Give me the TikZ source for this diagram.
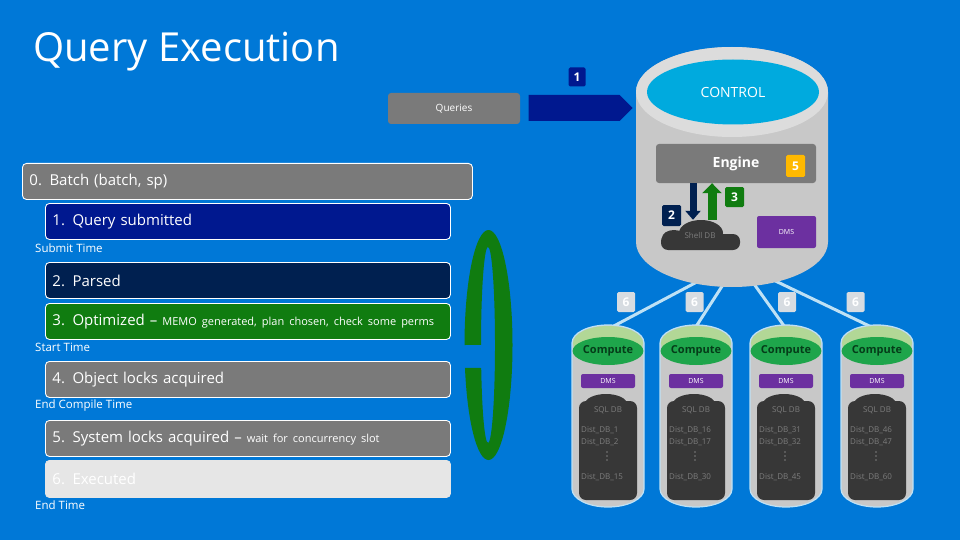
\documentclass[tikz,border=0pt]{standalone}
\usepackage{fontspec}
\setmainfont{Open Sans}
\usetikzlibrary{shapes.geometric}
\usetikzlibrary{shapes.symbols}
\usetikzlibrary{arrows.meta}
\pgfdeclarelayer{background}
\pgfsetlayers{background,main}
\definecolor{bgblue}{RGB}{0,120,215}
\definecolor{boxgray}{RGB}{122,122,122}
\definecolor{navyone}{RGB}{0,24,143}
\definecolor{navytwo}{RGB}{0,32,80}
\definecolor{stepgreen}{RGB}{16,124,16}
\definecolor{palegray}{RGB}{230,230,230}
\definecolor{cylgray}{RGB}{200,200,200}
\definecolor{rimgray}{RGB}{220,220,220}
\definecolor{ctlcyan}{RGB}{0,170,222}
\definecolor{badgeyellow}{RGB}{255,185,0}
\definecolor{dmspurple}{RGB}{108,48,160}
\definecolor{dbdark}{RGB}{55,55,55}
\definecolor{dbgray}{RGB}{125,125,125}
\definecolor{rimgreen}{RGB}{178,215,150}
\definecolor{cmpgreen}{RGB}{30,165,75}
\definecolor{cmptext}{RGB}{5,60,25}
\definecolor{linkblue}{RGB}{190,225,245}
\definecolor{badgelight}{RGB}{215,220,225}
\newcommand{\fs}[1]{\fontsize{#1}{#1}\selectfont}
\newcommand{\computecyl}[5]{   % x, name, first, second, last
	\fill[cylgray, draw=linkblue, line width=1.2] (#1 - 36, 343) -- (#1 - 36, 489)
		arc[start angle=180, end angle=0, x radius=36, y radius=18] -- (#1 + 36, 343)
		arc[start angle=0, end angle=-180, x radius=36, y radius=18] -- cycle;
	\fill[rimgreen] (#1, 343) ellipse[x radius=35, y radius=17];
	\node[ellipse, fill=cmpgreen, minimum width=68, minimum height=28, inner sep=0, text=cmptext, font=\bfseries\fs{11}] (#2) at (#1, 351) {Compute};
	\node[dmsbox, minimum width=54, minimum height=14, font=\fs{7}] (#2dms) at (#1, 381) {DMS};
	\fill[dbdark, rounded corners=7] (#1 - 29, 401) rectangle (#1 + 29, 500);
	\fill[dbdark] (#1 - 2, 404) ellipse[x radius=21, y radius=10];
	\node[dbtext] (#2sql) at (#1, 410) {SQL DB};
	\node[dbtext, anchor=west] (#2a) at (#1 - 27, 430) {Dist\_DB\_#3};
	\node[dbtext, anchor=west] (#2b) at (#1 - 27, 442) {Dist\_DB\_#4};
	\foreach \d in {452, 456, 460}
		\fill[dbgray] (#1 - 1, \d) circle[radius=0.9];
	\node[dbtext, anchor=west] (#2c) at (#1 - 27, 477) {Dist\_DB\_#5};
}

\begin{document}
\begin{tikzpicture}[x=1pt, y=-1pt,
	stepbox/.style={draw=white, line width=0.9, rounded corners=4, anchor=north west, minimum height=36,
		text width=391, inner xsep=7, align=left, text=white, font=\fs{15}},
	timelabel/.style={anchor=west, text=white, font=\fs{11.5}, inner sep=0},
	badge/.style={rounded corners=1.5, text=white, font=\bfseries\fs{12}, inner sep=0, minimum width=18, minimum height=20},
	dmsbox/.style={fill=dmspurple, rounded corners=2, text=white, inner sep=0},
	dbtext/.style={text=dbgray, font=\fs{8}, inner sep=0},
	link/.style={draw=linkblue, line width=3}]

\useasboundingbox (0, 0) rectangle (960, 540);

\node[anchor=west, text=white, font=\fs{40}, inner sep=0] (title) at (33, 52) {Query Execution};

% steps
\node[stepbox, fill=boxgray, text width=436] (batch) at (22, 163) {0. Batch (batch, sp)};
\node[stepbox, fill=navyone] (submitted) at (45, 203) {1. Query submitted};
\node[timelabel] (submittime) at (35, 248) {Submit Time};
\node[stepbox, fill=navytwo] (parsed) at (45, 262) {2. Parsed};
\node[stepbox, fill=stepgreen] (optimized) at (45, 303) {3. Optimized – {\fs{11}MEMO generated, plan chosen, check some perms}};
\node[timelabel] (starttime) at (35, 347) {Start Time};
\node[stepbox, fill=boxgray] (objlocks) at (45, 361) {4. Object locks acquired};
\node[timelabel] (compiletime) at (35, 406) {End Compile Time};
\node[stepbox, fill=boxgray] (syslocks) at (45, 420) {5. System locks acquired – {\fs{11}wait for concurrency slot}};
\node[stepbox, fill=palegray, draw=palegray, minimum height=37] (executed) at (45, 460) {6. Executed};
\node[timelabel] (endtime) at (35, 505) {End Time};

% loop
\fill[stepgreen] (464.5, 345) arc[start angle=-180, end angle=168.5, x radius=24, y radius=115]
	-- (481.2, 368) arc[start angle=166.4, end angle=-180, x radius=7, y radius=98] -- cycle;

% queries
\node[fill=boxgray, rounded corners=3, minimum width=132, minimum height=31, inner sep=0, text=white, font=\fs{10}] (queries) at (454, 108.5) {Queries};
\node[signal, signal to=east, fill=navyone, minimum width=104, minimum height=26, inner sep=0] (qarrow) at (574, 108) {};
\node[badge, fill=navyone, minimum width=17, minimum height=19] (one) at (577, 77) {1};

% control
\fill[cylgray] (636, 92) -- (636, 242) arc[start angle=180, end angle=0, x radius=96, y radius=45]
	-- (828, 92) arc[start angle=0, end angle=-180, x radius=96, y radius=45] -- cycle;
\fill[rimgray] (732, 92) ellipse[x radius=96, y radius=45];
\node[ellipse, fill=ctlcyan, minimum width=172, minimum height=65, inner sep=0, text=white, font=\fs{14}] (control) at (733, 92) {CONTROL};
\node[fill=boxgray, rounded corners=3, minimum width=160, minimum height=39, inner sep=0, text=white, font=\bfseries\fs{14}] (engine) at (736, 163.5) {Engine};
\node[badge, fill=badgeyellow, minimum width=19, minimum height=22] (five) at (795.5, 166) {5};
\fill[dbdark, rounded corners=7] (661, 234) rectangle (740, 250);
\fill[dbdark] (701, 233) ellipse[x radius=22, y radius=13];
\fill[dbdark] (674, 238) ellipse[x radius=12, y radius=8];
\node[minimum width=79, minimum height=30, inner sep=0, text=dbgray, font=\fs{8}] (shell) at (700, 235) {Shell DB};
\node[dmsbox, minimum width=59, minimum height=32, font=\fs{7}] (ctldms) at (786.5, 232) {DMS};
\coordinate (dn) at (693, 0);
\coordinate (up) at (712, 0);
\draw[navytwo, line width=7, -{Triangle[width=15, length=9]}] (dn |- engine.south) -- (dn |- shell.north);
\draw[stepgreen, line width=9, -{Triangle[width=19, length=10]}] (up |- shell.north) -- (up |- engine.south);
\node[badge, fill=navytwo, minimum width=19, minimum height=21] (two) at (671.5, 215.5) {2};
\node[badge, fill=stepgreen, minimum width=19, minimum height=20] (three) at (734.5, 197) {3};

% computes
\computecyl{608}{cmpa}{1}{2}{15}
\computecyl{696}{cmpb}{16}{17}{30}
\computecyl{786}{cmpc}{31}{32}{45}
\computecyl{877}{cmpd}{46}{47}{60}

\node[badge, fill=badgelight] (sixa) at (626, 302) {6};
\node[badge, fill=badgelight] (sixb) at (694.5, 302) {6};
\node[badge, fill=badgelight] (sixc) at (787, 302) {6};
\node[badge, fill=badgelight] (sixd) at (855.5, 302) {6};

\coordinate (ctla) at (710, 275);
\coordinate (ctlb) at (728, 277);
\coordinate (ctlc) at (749, 277);
\coordinate (ctld) at (765, 276);

\begin{pgfonlayer}{background}
\fill[bgblue] (0, 0) rectangle (960, 540);
\foreach \s/\t/\dx in {ctla/cmpa/-7, ctlb/cmpb/-4, ctlc/cmpc/3, ctld/cmpd/6.5}
	\draw[link] (\s) -- ([shift={(\dx pt, 4pt)}]\t.north);
\end{pgfonlayer}

\end{tikzpicture}
\end{document}
